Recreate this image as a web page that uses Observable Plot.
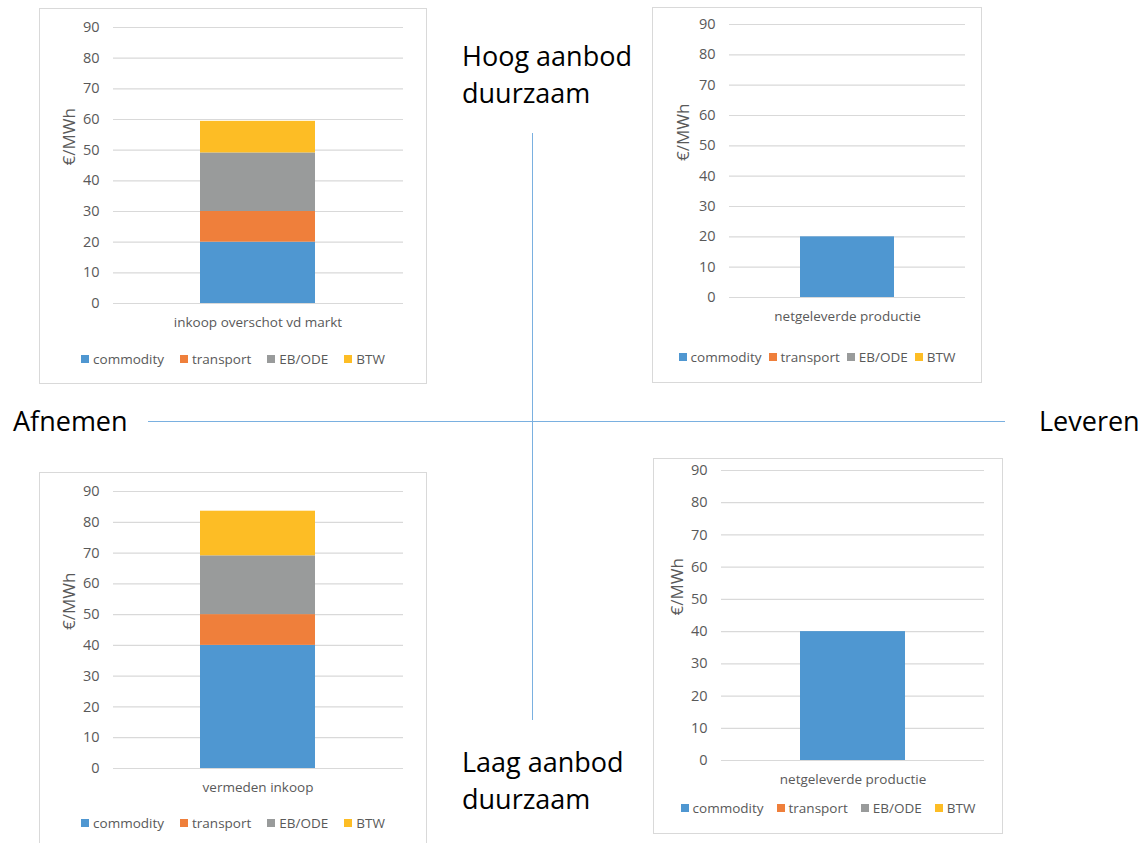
<!DOCTYPE html>
<html>
<head>
<meta charset="utf-8">
<script src="https://cdn.jsdelivr.net/npm/d3@7"></script>
<script src="https://cdn.jsdelivr.net/npm/@observablehq/plot@0.6"></script>
<style>
  body { margin: 0; background: #fff; }
  #page { position: relative; width: 1147px; height: 843px; overflow: hidden; background: #fff; font-family: "Open Sans", sans-serif; }
  .box { position: absolute; box-sizing: border-box; border: 1px solid #d9d9d9; background: #fff; overflow: hidden; }
  .box svg { position: absolute; left: 0; top: 0; }
  .legend { position: absolute; left: 0; right: 0; height: 18px; line-height: 18px; display: flex; justify-content: center; align-items: center; font-size: 13.5px; color: #595959; white-space: nowrap; }
  .legend .item { display: flex; align-items: center; }
  .legend .sw { width: 8px; height: 8px; margin-right: 4px; }
  .big { position: absolute; font-size: 27px; line-height: 37px; color: #000; white-space: pre; }
  .rule { position: absolute; background: #7ab0e0; }
</style>
</head>
<body>
<div id="page"></div>
<script>
// Cost components of one MWh and their colours
const components = ["commodity", "transport", "EB/ODE", "BTW"];
const componentColors = ["#4f97d1", "#ef7f3b", "#999b9b", "#fdbd25"];

// One bar per panel: top-left, top-right, bottom-left, bottom-right
const categories = ["inkoop overschot vd markt", "netgeleverde productie", "vermeden inkoop", "netgeleverde productie"];
const commodity = [20, 20, 40, 40];
const transport = [10, 0, 10, 0];
const ebOde = [19.1, 0, 19.1, 0];
const btw = [10.3, 0, 14.5, 0];

const yTicks = [0, 10, 20, 30, 40, 50, 60, 70, 80, 90];
const yTitle = "€/MWh";

// Quadrant captions
const topCaption = "Hoog aanbod\nduurzaam";
const bottomCaption = "Laag aanbod\nduurzaam";
const leftCaption = "Afnemen";
const rightCaption = "Leveren";

// Panel geometry in page pixels: frame box, plot area, legend centre line, legend spacing
const panels = [
  { box: [39, 8, 427, 384],   plot: [113, 27, 403, 303],  legendY: 359, gap: 16, titleDx: -44 },
  { box: [652, 7, 982, 383],  plot: [729, 24, 965, 297],  legendY: 357, gap: 7,  titleDx: -46 },
  { box: [39, 472, 427, 852], plot: [113, 491, 403, 768], legendY: 823, gap: 16, titleDx: -44 },
  { box: [653, 458, 1003, 834], plot: [721, 470, 984, 760], legendY: 808, gap: 13, titleDx: -44 }
];

const series = [commodity, transport, ebOde, btw];
const page = document.getElementById("page");

panels.forEach((p, i) => {
  const [bx0, by0, bx1, by1] = p.box;
  const [px0, py0, px1, py1] = p.plot;
  const innerLeft = bx0 + 1, innerTop = by0 + 1;
  const innerWidth = bx1 - bx0 - 2;

  const rows = components
    .map((c, k) => ({ category: categories[i], component: c, value: series[k][i] }))
    .filter(d => d.value > 0);

  const box = document.createElement("div");
  box.className = "box";
  box.style.left = bx0 + "px";
  box.style.top = by0 + "px";
  box.style.width = (bx1 - bx0) + "px";
  box.style.height = (by1 - by0) + "px";

  const marginBottom = 40;
  const chart = Plot.plot({
    width: innerWidth,
    height: py1 - innerTop + marginBottom,
    marginLeft: px0 - innerLeft,
    marginRight: (bx1 - 1) - px1,
    marginTop: py0 - innerTop,
    marginBottom,
    style: { fontFamily: "Open Sans, sans-serif", background: "transparent", color: "#595959" },
    x: { domain: [categories[i]], padding: 0.4286, axis: null },
    y: { domain: [0, 90], axis: null },
    color: { domain: components, range: componentColors },
    marks: [
      Plot.gridY(yTicks, { stroke: "#d9d9d9", strokeOpacity: 1, strokeWidth: 1.2 }),
      Plot.barY(rows, { x: "category", y: "value", fill: "component", order: components }),
      Plot.axisY(yTicks, { tickSize: 0, tickPadding: 14, fontSize: 14.5, fill: "#595959", label: null }),
      Plot.axisX({ tickSize: 0, tickPadding: 14, fontSize: 13.5, fill: "#595959", label: null }),
      Plot.text([yTitle], { frameAnchor: "left", text: d => d, rotate: -90, dx: p.titleDx, fontSize: 17, fill: "#595959" })
    ]
  });
  box.appendChild(chart);

  const legend = document.createElement("div");
  legend.className = "legend";
  legend.style.top = (p.legendY - innerTop - 9) + "px";
  legend.style.gap = p.gap + "px";
  components.forEach((c, k) => {
    const item = document.createElement("div");
    item.className = "item";
    const sw = document.createElement("span");
    sw.className = "sw";
    sw.style.background = componentColors[k];
    item.appendChild(sw);
    item.appendChild(document.createTextNode(c));
    legend.appendChild(item);
  });
  box.appendChild(legend);

  page.appendChild(box);
});

// Quadrant axes
function rule(left, top, width, height) {
  const r = document.createElement("div");
  r.className = "rule";
  Object.assign(r.style, { left: left + "px", top: top + "px", width: width + "px", height: height + "px" });
  page.appendChild(r);
}
rule(532, 133, 1, 587);
rule(148, 421, 857, 1);

function caption(text, left, top) {
  const d = document.createElement("div");
  d.className = "big";
  d.textContent = text;
  d.style.left = left + "px";
  d.style.top = top + "px";
  page.appendChild(d);
}
caption(topCaption, 462, 37);
caption(bottomCaption, 462, 743);
caption(leftCaption, 13, 402);
caption(rightCaption, 1039, 402);
</script>
</body>
</html>
